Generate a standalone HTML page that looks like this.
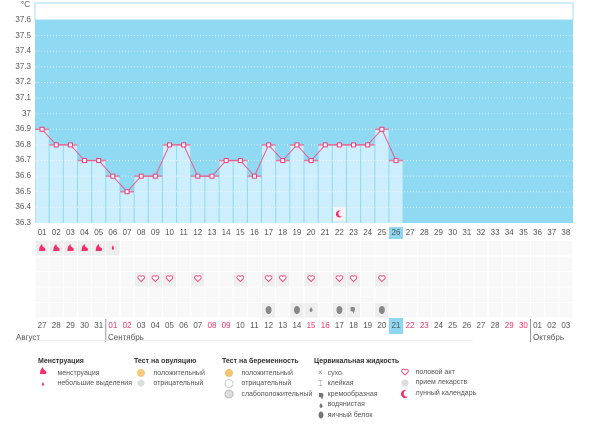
<!DOCTYPE html>
<html><head><meta charset="utf-8"><style>
body{margin:0;width:600px;height:436px;background:#fff;font-family:"Liberation Sans",sans-serif;position:relative;overflow:hidden}
.a{position:absolute}
.yl{position:absolute;left:0;width:31px;text-align:right;font-size:8px;color:#555}
.row{position:absolute;left:35px;display:flex;font-size:8px;color:#555}
.row span{width:14.158px;text-align:center;flex:none;line-height:12px}
.r{color:#e8336b}
.hl{background:#8fd6f0}
.lg{position:absolute;font-size:7px;color:#555;line-height:10.5px}
.lg b{color:#333;font-weight:bold;display:block;margin-bottom:1px}
</style></head><body>
<svg class="a" style="left:0;top:0" width="600" height="436" id="s"></svg>
<div class="a" style="left:21px;top:0;font-size:8px;color:#555">°C</div>
<div class="yl" style="top:15px">37.6</div>
<div class="yl" style="top:31px">37.5</div>
<div class="yl" style="top:46px">37.4</div>
<div class="yl" style="top:62px">37.3</div>
<div class="yl" style="top:77px">37.2</div>
<div class="yl" style="top:93px">37.1</div>
<div class="yl" style="top:109px">37</div>
<div class="yl" style="top:124px">36.9</div>
<div class="yl" style="top:140px">36.8</div>
<div class="yl" style="top:155px">36.7</div>
<div class="yl" style="top:171px">36.6</div>
<div class="yl" style="top:187px">36.5</div>
<div class="yl" style="top:202px">36.4</div>
<div class="yl" style="top:218px">36.3</div>
<div class="row" style="top:227px"><span>01</span><span>02</span><span>03</span><span>04</span><span>05</span><span>06</span><span>07</span><span>08</span><span>09</span><span>10</span><span>11</span><span>12</span><span>13</span><span>14</span><span>15</span><span>16</span><span>17</span><span>18</span><span>19</span><span>20</span><span>21</span><span>22</span><span>23</span><span>24</span><span>25</span><span class="hl">26</span><span>27</span><span>28</span><span>29</span><span>30</span><span>31</span><span>32</span><span>33</span><span>34</span><span>35</span><span>36</span><span>37</span><span>38</span></div>
<div class="row" style="top:320px"><span>27</span><span>28</span><span>29</span><span>30</span><span>31</span><span class="r">01</span><span class="r">02</span><span>03</span><span>04</span><span>05</span><span>06</span><span>07</span><span class="r">08</span><span class="r">09</span><span>10</span><span>11</span><span>12</span><span>13</span><span>14</span><span class="r">15</span><span class="r">16</span><span>17</span><span>18</span><span>19</span><span>20</span><span class="hl" style="line-height:16px;height:16px;margin-top:-2px">21</span><span class="r">22</span><span class="r">23</span><span>24</span><span>25</span><span>26</span><span>27</span><span>28</span><span class="r">29</span><span class="r">30</span><span>01</span><span>02</span><span>03</span></div>
<div class="a" style="left:16px;top:333px;font-size:8px;color:#555">Август</div>
<div class="a" style="left:108px;top:333px;font-size:8px;color:#555">Сентябрь</div>
<div class="a" style="left:533px;top:333px;font-size:8px;color:#555">Октябрь</div>
<div class="lg" style="left:38px;top:357px"><b>Менструация</b><div>&nbsp;&nbsp;&nbsp;&nbsp;&nbsp;&nbsp;&nbsp;&nbsp;&nbsp;&nbsp;менструация</div><div>&nbsp;&nbsp;&nbsp;&nbsp;&nbsp;&nbsp;&nbsp;&nbsp;&nbsp;&nbsp;небольшие выделения</div></div>
<div class="lg" style="left:134px;top:357px"><b>Тест на овуляцию</b><div>&nbsp;&nbsp;&nbsp;&nbsp;&nbsp;&nbsp;&nbsp;&nbsp;&nbsp;&nbsp;положительный</div><div>&nbsp;&nbsp;&nbsp;&nbsp;&nbsp;&nbsp;&nbsp;&nbsp;&nbsp;&nbsp;отрицательный</div></div>
<div class="lg" style="left:222px;top:357px"><b>Тест на беременность</b><div>&nbsp;&nbsp;&nbsp;&nbsp;&nbsp;&nbsp;&nbsp;&nbsp;&nbsp;&nbsp;положительный</div><div>&nbsp;&nbsp;&nbsp;&nbsp;&nbsp;&nbsp;&nbsp;&nbsp;&nbsp;&nbsp;отрицательный</div><div>&nbsp;&nbsp;&nbsp;&nbsp;&nbsp;&nbsp;&nbsp;&nbsp;&nbsp;&nbsp;слабоположительный</div></div>
<div class="lg" style="left:314px;top:357px"><b>Цервикальная жидкость</b><div>&nbsp;&nbsp;&nbsp;&nbsp;&nbsp;&nbsp;&nbsp;сухо</div><div>&nbsp;&nbsp;&nbsp;&nbsp;&nbsp;&nbsp;&nbsp;клейкая</div><div>&nbsp;&nbsp;&nbsp;&nbsp;&nbsp;&nbsp;&nbsp;кремообразная</div><div>&nbsp;&nbsp;&nbsp;&nbsp;&nbsp;&nbsp;&nbsp;водянистая</div><div>&nbsp;&nbsp;&nbsp;&nbsp;&nbsp;&nbsp;&nbsp;яичный белок</div></div>
<div class="lg" style="left:400px;top:367.5px"><div>&nbsp;&nbsp;&nbsp;&nbsp;&nbsp;&nbsp;&nbsp;&nbsp;половой акт</div><div>&nbsp;&nbsp;&nbsp;&nbsp;&nbsp;&nbsp;&nbsp;&nbsp;прием лекарств</div><div>&nbsp;&nbsp;&nbsp;&nbsp;&nbsp;&nbsp;&nbsp;&nbsp;лунный календарь</div></div>
<script>
var s=document.getElementById('s'),h='';
var L=35,W=538/38,Y0=20,S=15.615;
function X(i){return L+i*W}
function Yt(t){return Y0+(37.6-t)*10*S}
h+='<rect x="35" y="3" width="538" height="17" fill="#fff" stroke="#9fdcf3" stroke-width="1"/>';
h+='<rect x="35" y="20" width="538" height="203" fill="#8fd9f2"/>';
var T=[36.9,36.8,36.8,36.7,36.7,36.6,36.5,36.6,36.6,36.8,36.8,36.6,36.6,36.7,36.7,36.6,36.8,36.7,36.8,36.7,36.8,36.8,36.8,36.8,36.9,36.7];
for(var i=0;i<T.length;i++){var y=Yt(T[i]);h+='<rect x="'+(X(i)+0.5)+'" y="'+y+'" width="'+(W-1)+'" height="'+(223-y)+'" fill="#cdeefc"/>';}
for(var k=1;k<13;k++){var y=Y0+k*S;h+='<line x1="35" x2="573" y1="'+y+'" y2="'+y+'" stroke="#fff" stroke-opacity=".6" stroke-dasharray="1,2"/>';}
for(var i=0;i<T.length;i++){var y=Yt(T[i]);h+='<line x1="'+X(i)+'" x2="'+X(i+1)+'" y1="'+y+'" y2="'+y+'" stroke="#e87aa0" stroke-width="1.5"/>';}
var p='';for(var i=0;i<T.length;i++)p+=(X(i)+W/2)+','+Yt(T[i])+' ';
h+='<polyline points="'+p+'" fill="none" stroke="#ec5d8c" stroke-width="1"/>';
for(var i=0;i<T.length;i++)h+='<rect x="'+(X(i)+W/2-2)+'" y="'+(Yt(T[i])-2)+'" width="4" height="4" fill="#fff" stroke="#ec3d7a" stroke-width="1"/>';
h+='<rect x="'+(X(21)+1)+'" y="207" width="'+(W-2)+'" height="14" fill="#f4f4f4"/><circle cx="'+(X(21)+W/2)+'" cy="214" r="3.5" fill="#f0306d"/><circle cx="'+(X(21)+W/2+2)+'" cy="213.5" r="3" fill="#f4f4f4"/>';
var rows=[241,256.5,272,287.5,303];
for(var r=0;r<5;r++)for(var i=0;i<38;i++)h+='<rect x="'+(X(i)+0.5)+'" y="'+rows[r]+'" width="'+(W-1)+'" height="14.5" fill="#f8f8f8"/>';
function cell(i,r){h+='<rect x="'+(X(i)+0.5)+'" y="'+rows[r]+'" width="'+(W-1)+'" height="14.5" fill="#eeeeee"/>';}
for(var i=0;i<6;i++){cell(i,0);var cx=X(i)+W/2,cy=248;if(i<5)h+='<path d="M'+(cx-3)+','+(cy+3)+' q0,-5 3,-7 q0,3 3,4 q1,3 -1,3z" fill="#f0306d"/>';else h+='<path d="M'+cx+','+(cy-3)+' q2,4 0,5 q-2,-1 0,-5z" fill="#f0306d"/>';}
[7,8,9,11,14,16,17,19,21,22,24].forEach(function(i){cell(i,2);var cx=X(i)+W/2,cy=278.5;h+='<path d="M'+cx+','+(cy+3)+' l-3,-3 a1.6,1.6 0 0 1 3,-2 a1.6,1.6 0 0 1 3,2z" fill="#fff" stroke="#f0508a" stroke-width="1"/>';});
[[16,'e'],[18,'e'],[19,'w'],[21,'e'],[22,'c'],[24,'e']].forEach(function(a){var i=a[0];cell(i,4);var cx=X(i)+W/2,cy=310;if(a[1]=='e')h+='<ellipse cx="'+cx+'" cy="'+cy+'" rx="3" ry="4" fill="#888"/>';else if(a[1]=='w')h+='<path d="M'+cx+','+(cy-3)+' q3,4 0,5 q-3,-1 0,-5z" fill="#888"/>';else h+='<path d="M'+(cx-3)+','+(cy-3)+' q6,-1 4,4 l-1,3 q0,-3 -3,-3z" fill="#888"/>';});
h+='<line x1="'+X(5)+'" x2="'+X(5)+'" y1="319" y2="342" stroke="#999"/>';
h+='<line x1="'+X(35)+'" x2="'+X(35)+'" y1="319" y2="342" stroke="#999"/>';
h+='<line x1="14" x2="473" y1="340.5" y2="340.5" stroke="#eee"/>';
h+='<path d="M40,374 q0,-5 3,-7 q0,3 3,4 q1,3 -1,3z" fill="#f0306d"/><path d="M43,382 q2,3 0,4 q-2,-1 0,-4z" fill="#f0306d"/>';
h+='<circle cx="141" cy="373" r="4" fill="#f7c97a"/><circle cx="141" cy="383" r="3.5" fill="#ddd"/>';
h+='<circle cx="229" cy="373" r="4" fill="#f6c46a"/><circle cx="229" cy="383.5" r="4" fill="#fff" stroke="#ccc"/><circle cx="229" cy="394" r="4" fill="#ddd" stroke="#bbb"/>';
h+='<text x="318" y="375" font-size="8" fill="#888">×</text><text x="318" y="386" font-size="8" fill="#888">⌶</text>';
h+='<path d="M319,393 q6,-1 4,4 l-1,3 q0,-3 -3,-3z" fill="#777"/><path d="M321,403 q3,4 0,5 q-3,-1 0,-5z" fill="#777"/><ellipse cx="321" cy="415" rx="2.5" ry="3.5" fill="#777"/>';
h+='<path d="M405,375 l-3,-3 a1.6,1.6 0 0 1 3,-2 a1.6,1.6 0 0 1 3,2z" fill="#fff" stroke="#f0508a"/><circle cx="405" cy="383" r="3.5" fill="#ddd"/>';
h+='<circle cx="405" cy="394" r="4" fill="#f0306d"/><circle cx="407" cy="393.5" r="3.3" fill="#fff"/>';
s.innerHTML=h;
</script>
</body></html>
